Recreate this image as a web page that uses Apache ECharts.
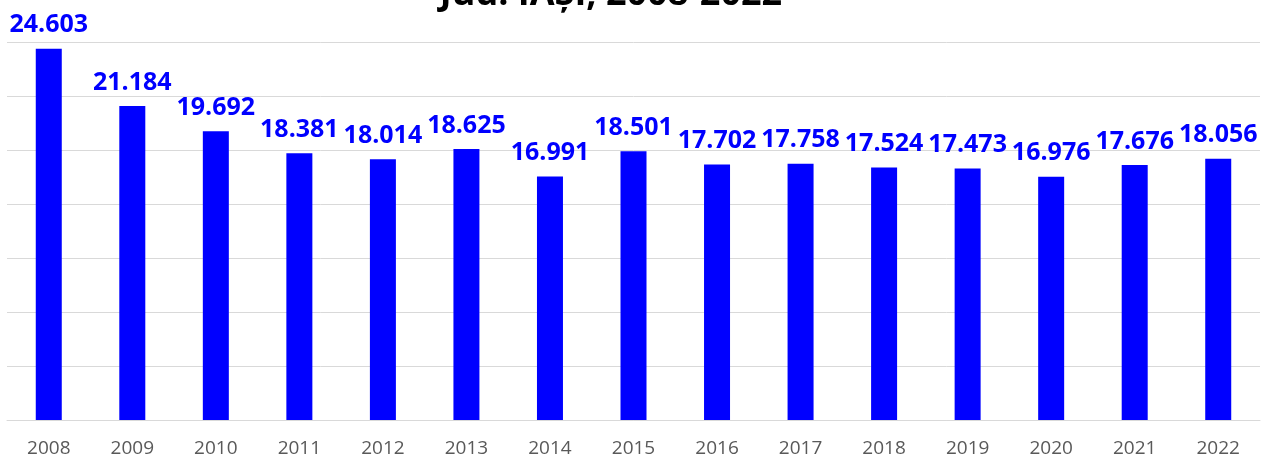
<!DOCTYPE html>
<html>
<head>
<meta charset="utf-8">
<script src="https://cdn.jsdelivr.net/npm/echarts@6/dist/echarts.min.js"></script>
<style>
  html, body { margin: 0; padding: 0; background: #fff; }
  #chart { width: 1261px; height: 459px; }
</style>
</head>
<body>
<div id="chart"></div>
<script>
// ani si valori
const years = ['2008', '2009', '2010', '2011', '2012', '2013', '2014', '2015',
  '2016', '2017', '2018', '2019', '2020', '2021', '2022'];
const values = [24.603, 21.184, 19.692, 18.381, 18.014, 18.625, 16.991, 18.501,
  17.702, 17.758, 17.524, 17.473, 16.976, 17.676, 18.056];
const titleText = 'Jud. IAȘI, 2008-2022';

const chart = echarts.init(document.getElementById('chart'));

const option = {
  animation: false,
  title: {
    text: titleText,
    left: 606,
    textAlign: 'center',
    top: -28,
    textStyle: {
      fontFamily: 'Open Sans',
      fontSize: 36,
      fontWeight: 'bold',
      color: '#000'
    }
  },
  grid: {
    left: 7,
    right: 1,
    top: 42,
    bottom: 39,
    containLabel: false
  },
  xAxis: {
    type: 'category',
    data: years,
    axisLine: { lineStyle: { color: '#d9d9d9', width: 1 } },
    axisTick: { show: false },
    axisLabel: {
      color: '#595959',
      fontFamily: 'Open Sans',
      fontSize: 19,
      margin: 19
    }
  },
  yAxis: {
    type: 'value',
    min: 2.5,
    max: 25,
    interval: 22.5 / 7,
    axisLabel: { show: false },
    axisLine: { show: false },
    axisTick: { show: false },
    splitLine: { lineStyle: { color: '#d9d9d9', width: 1 } }
  },
  series: [
    {
      type: 'bar',
      data: values,
      barWidth: 26,
      itemStyle: { color: '#0000ff' },
      label: {
        show: true,
        position: 'top',
        distance: 11,
        color: '#0000ff',
        fontFamily: 'Open Sans',
        fontWeight: 'bold',
        fontSize: 25,
        formatter: (p) => p.value.toFixed(3)
      }
    }
  ]
};

chart.setOption(option);
</script>
</body>
</html>
